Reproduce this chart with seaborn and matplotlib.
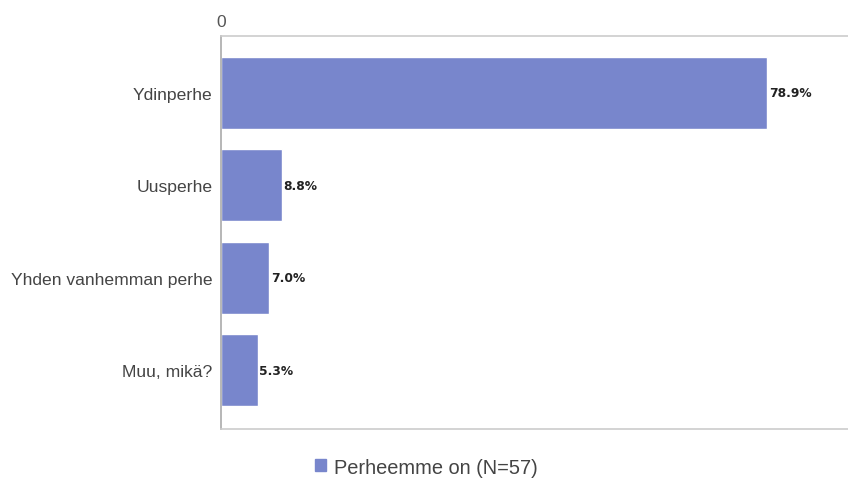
import matplotlib
matplotlib.use("Agg")
import matplotlib.pyplot as plt
import seaborn as sns
import pandas as pd
from matplotlib.patches import Patch

categories = ["Ydinperhe", "Uusperhe", "Yhden vanhemman perhe", "Muu, mikä?"]
values = [78.9, 8.8, 7.0, 5.3]
series_name = "Perheemme on (N=57)"
bar_color = "#7886CC"

df = pd.DataFrame({"cat": categories, "val": values})

sns.set_theme(style="white")
plt.rcParams['font.family'] = ['Liberation Sans', 'DejaVu Sans']

fig = plt.figure(figsize=(8.48, 4.81), dpi=100)
ax = fig.add_axes([221/848, 1-430/481, 1-221/848, (430-37)/481])

sns.barplot(data=df, y="cat", x="val", orient="h", color=bar_color,
            saturation=1, width=0.78, ax=ax)

ax.set_xlim(0, (848-221)/6.92)
ax.set_ylim(3 + (430-371)/92.4, -(94-37)/92.4)
ax.set_xlabel("")
ax.set_ylabel("")

ax.xaxis.tick_top()
ax.set_xticks([0])
ax.set_xticklabels(["0"], color="#555555", fontsize=12.5)
ax.tick_params(axis="x", length=0, pad=5)
ax.tick_params(axis="y", length=0, pad=6, labelsize=12.6, labelcolor="#444444")

for s in ["top", "bottom"]:
    ax.spines[s].set_color("#cccccc")
    ax.spines[s].set_linewidth(1.2)
ax.spines["left"].set_color("#aaaaaa")
ax.spines["left"].set_linewidth(1.2)
ax.spines["right"].set_visible(False)

for i, v in enumerate(values):
    ax.text(v + 0.25, i, f"{v:.1f}%", va="center", ha="left",
            fontsize=8.8, fontweight="bold", color="#222222", family="DejaVu Sans")

fig.legend(handles=[Patch(color=bar_color, label=series_name)],
           loc="center", bbox_to_anchor=(0.503, 1-468/481), frameon=False,
           fontsize=14.4, handlelength=0.55, handleheight=0.55, handletextpad=0.4,
           labelcolor="#444444")

fig.savefig("out.png", dpi=100)
